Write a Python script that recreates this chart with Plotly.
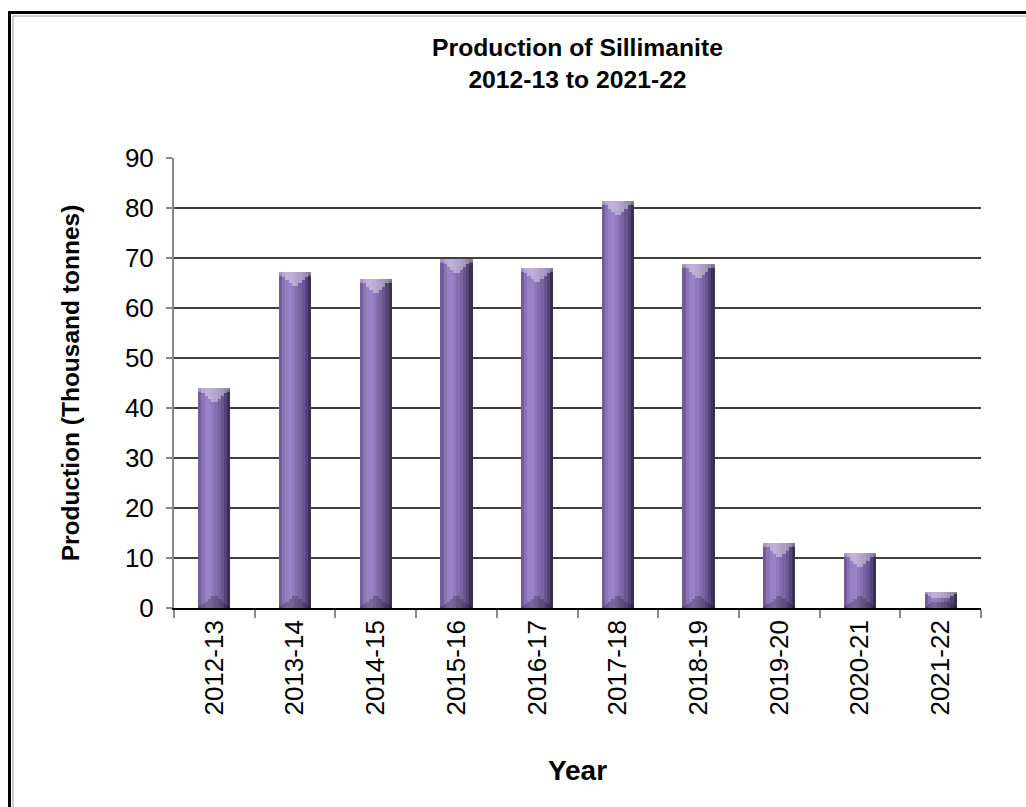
import plotly.graph_objects as go

years = ["2012-13", "2013-14", "2014-15", "2015-16", "2016-17",
         "2017-18", "2018-19", "2019-20", "2020-21", "2021-22"]
production = [44.0, 67.2, 65.9, 69.8, 68.0, 81.5, 68.9, 13.1, 11.1, 3.3]
y_ticks = [0, 10, 20, 30, 40, 50, 60, 70, 80, 90]

# horizontal shading of the cylinder-like bars, left -> right
body_colors = ["#725c9a", "#8c73b8", "#9880c4", "#9a82c6", "#9179bd",
               "#866dae", "#7a63a2", "#6a5590", "#554476", "#3c2f55"]


def shade(hex_color, f):
    r, g, b = int(hex_color[1:3], 16), int(hex_color[3:5], 16), int(hex_color[5:7], 16)
    if f >= 0:
        r, g, b = [int(c + (255 - c) * f) for c in (r, g, b)]
    else:
        r, g, b = [int(c * (1 + f)) for c in (r, g, b)]
    return "#%02x%02x%02x" % (r, g, b)


FONT = "Liberation Sans, Arial, sans-serif"
BAR_W = 0.4
N = len(body_colors)
STRIP = BAR_W / N
BEVEL = 3.2

fig = go.Figure()

for i, col in enumerate(body_colors):
    off = -BAR_W / 2 + i * STRIP
    w = STRIP * 1.4 if i < N - 1 else STRIP
    fig.add_bar(x=years, y=production, width=w, offset=off,
                marker=dict(color=col, line=dict(width=0)),
                showlegend=False, hoverinfo="skip" if i else "x+y")

for i, col in enumerate(body_colors):
    off = -BAR_W / 2 + i * STRIP
    centre = off + STRIP / 2
    frac = max(0.0, 1 - abs(centre) / (BAR_W / 2))
    depth = [min(BEVEL * frac, v * 0.4) for v in production]
    band = [min(BEVEL * 0.25, v * 0.1) for v in production]
    fig.add_bar(x=years, y=band, base=[v - b for v, b in zip(production, band)],
                width=STRIP, offset=off,
                marker=dict(color=shade(col, 0.3), line=dict(width=0)),
                showlegend=False, hoverinfo="skip")
    fig.add_bar(x=years, y=depth, base=[v - d for v, d in zip(production, depth)],
                width=STRIP, offset=off,
                marker=dict(color=shade(col, 0.38), line=dict(width=0)),
                showlegend=False, hoverinfo="skip")
    bdepth = [min(BEVEL * 0.8 * frac, v * 0.35) for v in production]
    fig.add_bar(x=years, y=bdepth, base=0,
                width=STRIP, offset=off,
                marker=dict(color=shade(col, -0.22), line=dict(width=0)),
                showlegend=False, hoverinfo="skip")

# plot area in px: x 174..981, y 158..608
L, R, T, B = 174, 981, 158, 608
W, H = 1026, 807
pw, ph = R - L, B - T


def px(x):
    return (x - L) / pw


def py(y):
    return (B - y) / ph


fig.update_layout(
    width=W, height=H,
    margin=dict(l=L, r=W - R, t=T, b=H - B, pad=0),
    paper_bgcolor="white", plot_bgcolor="white",
    barmode="overlay", bargap=0,
    font=dict(family=FONT, color="black", size=26),
    title=dict(text="<b>Production of Sillimanite<br>2012-13 to 2021-22</b>",
               x=(L + R) / 2 / W, xanchor="center",
               y=1 - 56 / H, yanchor="middle", yref="container",
               font=dict(size=24.7, family=FONT)),
    xaxis=dict(
        type="category",
        tickson="boundaries",
        ticks="outside", ticklen=8, tickwidth=1.5, tickcolor="#888888",
        showline=True, linecolor="black", linewidth=1.5,
        tickangle=-90, tickfont=dict(size=26),
        showgrid=False,
        title=dict(text="<b>Year</b>", font=dict(size=28), standoff=46),
    ),
    yaxis=dict(
        range=[0, 90], tickvals=y_ticks,
        ticks="outside", ticklen=6, tickwidth=1.5, tickcolor="#888888",
        showline=True, linecolor="#888888", linewidth=2,
        showgrid=True, gridcolor="#404040", gridwidth=1.5,
        zeroline=False,
        tickfont=dict(size=26),
        ticklabelstandoff=7,
        title=dict(text="<b>Production (Thousand tonnes)</b>", font=dict(size=24.5), standoff=38),
    ),
    shapes=[
        dict(type="rect", xref="paper", yref="paper",
             x0=px(9.5), x1=px(1100), y0=py(900), y1=py(12.5),
             line=dict(color="black", width=3)),
        dict(type="rect", xref="paper", yref="paper",
             x0=px(13), x1=px(1100), y0=py(900), y1=py(16),
             line=dict(color="#9a9a9a", width=1)),
    ],
)

fig.write_html("out.html")
